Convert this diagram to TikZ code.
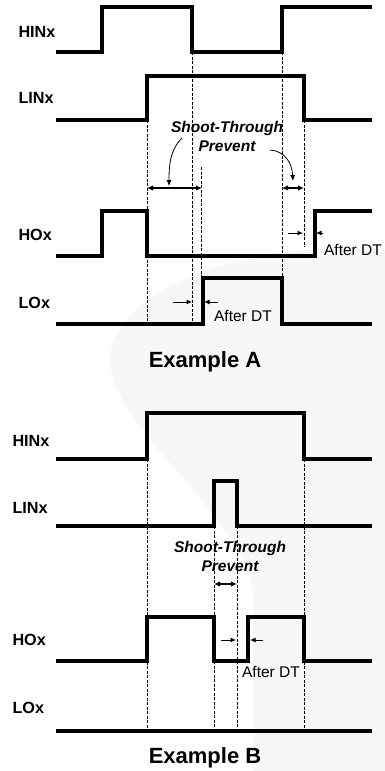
\documentclass[tikz,border=0pt]{standalone}
\usepackage{fontspec}
\setmainfont{Liberation Sans}
\usetikzlibrary{arrows.meta,positioning}

\begin{document}
\begin{tikzpicture}[x=1pt, y=-1pt,
    wave/.style={line width=3.2pt, line join=miter},
    guide/.style={line width=0.6pt, dash pattern=on 3pt off 1.5pt},
    sig/.style={font=\fontsize{16.2}{17}\selectfont\bfseries, anchor=west},
    dtarrow/.style={-{Latex[length=5.5pt,width=5pt]}, line width=1pt},
    dimarrow/.style={{Latex[length=6pt,width=5.5pt]}-{Latex[length=6pt,width=5.5pt]}, line width=1.2pt},
    curvearrow/.style={-{Latex[length=6pt,width=5pt]}, line width=0.8pt},
    note/.style={font=\fontsize{15.5}{19}\selectfont\bfseries\itshape, align=center},
    dtlabel/.style={font=\fontsize{15.5}{16}\selectfont},
    title/.style={font=\fontsize{22}{24}\selectfont\bfseries}]
  \useasboundingbox (0,0) rectangle (385,771);
  % faint background mark
  \fill[black!3] (385,250) .. controls (250,238) and (110,290) .. (110,360)
    .. controls (110,430) and (253,520) .. (253,600) -- (253,771) -- (385,771) -- cycle;

  % ---------------- Example A ----------------
  \node[sig] (hinA) at (15,32) {HINx};
  \node[sig] (linA) at (15,98) {LINx};
  \node[sig] (hoA) at (15,235) {HOx};
  \node[sig] (loA) at (15,303) {LOx};

  \draw[wave] (56,52) -| (102,7) -| (192,52) -| (282,7) -- (372,7);
  \draw[wave] (56,120) -| (147,76) -| (304,120) -- (372,120);
  \draw[wave] (56,256) -| (102,211) -| (147,256) -| (315,211) -- (372,211);
  \draw[wave] (56,324) -| (203,278) -| (282,324) -- (372,324);

  \draw[guide] (147,120) -- (147,324);
  \draw[guide] (192,52) -- (192,324);
  \draw[guide] (201.5,167) -- (201.5,278);
  \draw[guide] (282,52) -- (282,278);
  \draw[guide] (304,120) -- (304,247);

  \node[note] (stpA) at (227,136.5) {Shoot-Through\\Prevent};
  \coordinate (dimA1) at (147,188);
  \coordinate (dimA2) at (202,188);
  \coordinate (dimA3) at (282,188);
  \coordinate (dimA4) at (304,188);
  \draw[dimarrow] (dimA1) -- (dimA2);
  \draw[dimarrow] (dimA3) -- (dimA4);
  \draw[curvearrow] (182,138) .. controls (170,150) and (169,165) .. (169,186);
  \draw[curvearrow] (270,150) .. controls (285,151) and (292,163) .. (293,181);

  \coordinate (dtA1) at (288,233);
  \coordinate (dtA2) at (303,233);
  \coordinate (dtA3) at (323,233);
  \coordinate (dtA4) at (316,233);
  \draw[dtarrow] (dtA1) -- (dtA2);
  \draw[dtarrow] (dtA3) -- (dtA4);
  \node[dtlabel] (dtlabA1) at (353,250) {After DT};

  \coordinate (dtA5) at (173,302);
  \coordinate (dtA6) at (192,302);
  \coordinate (dtA7) at (218,302);
  \coordinate (dtA8) at (204,302);
  \draw[dtarrow] (dtA5) -- (dtA6);
  \draw[dtarrow] (dtA7) -- (dtA8);
  \node[dtlabel] (dtlabA2) at (243,316) {After DT};

  \node[title] (exA) at (205,362) {Example A};

  % ---------------- Example B ----------------
  \node[sig] (hinB) at (9,441) {HINx};
  \node[sig] (linB) at (9,508) {LINx};
  \node[sig] (hoB) at (9,640) {HOx};
  \node[sig] (loB) at (9,708) {LOx};

  \draw[wave] (56,459) -| (147,413) -| (304,459) -- (372,459);
  \draw[wave] (56,526) -| (214,481) -| (237,526) -- (372,526);
  \draw[wave] (56,661) -| (147,617) -| (214,661) -| (248,617) -| (304,661) -- (372,661);
  \draw[wave] (56,731) -- (372,731);

  \draw[guide] (147,459) -- (147,731);
  \draw[guide] (304,459) -- (304,731);
  \draw[guide] (214,526) -- (214,731);
  \draw[guide] (237,526) -- (237,731);

  \node[note] (stpB) at (230,556.5) {Shoot-Through\\Prevent};
  \coordinate (dimB1) at (214,584);
  \coordinate (dimB2) at (237,584);
  \draw[dimarrow] (dimB1) -- (dimB2);

  \coordinate (dtB1) at (221,640);
  \coordinate (dtB2) at (236,640);
  \coordinate (dtB3) at (263,640);
  \coordinate (dtB4) at (250,640);
  \draw[dtarrow] (dtB1) -- (dtB2);
  \draw[dtarrow] (dtB3) -- (dtB4);
  \node[dtlabel] (dtlabB) at (271,672) {After DT};

  \node[title] (exB) at (205,758) {Example B};
\end{tikzpicture}
\end{document}
